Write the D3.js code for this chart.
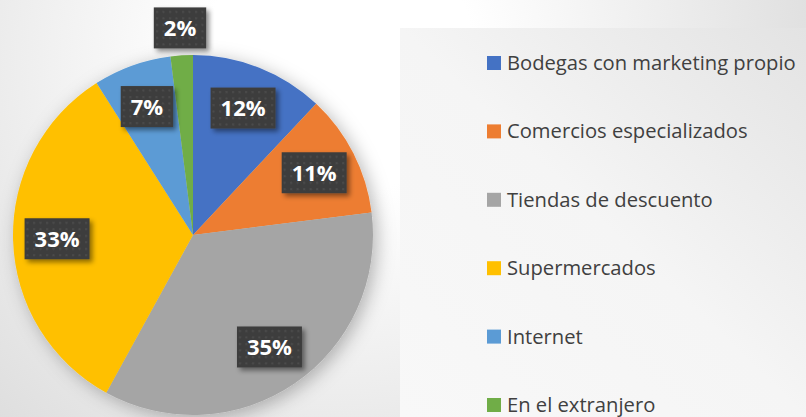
<!DOCTYPE html>
<html>
<head>
<meta charset="utf-8">
<script src="https://cdn.jsdelivr.net/npm/d3@7"></script>
<style>
  html, body { margin: 0; padding: 0; background: #fff; }
  svg { display: block; }
</style>
</head>
<body>
<div id="chart"></div>
<script>
// data
var categories = ["Bodegas con marketing propio", "Comercios especializados",
  "Tiendas de descuento", "Supermercados", "Internet", "En el extranjero"];
var values = [12, 11, 35, 33, 7, 2];
var colors = ["#4472c4", "#ed7d31", "#a5a5a5", "#ffc000", "#5b9bd5", "#70ad47"];

var width = 806, height = 417;
var cx = 193, cy = 235, radius = 180;

var svg = d3.select("#chart")
  .append("svg")
    .attr("width", width)
    .attr("height", height);

var defs = svg.append("defs");

// page background, soft radial
var bg = defs.append("radialGradient")
  .attr("id", "bg")
  .attr("gradientUnits", "userSpaceOnUse")
  .attr("cx", 340).attr("cy", 60).attr("r", 540);
bg.append("stop").attr("offset", "0").attr("stop-color", "#ffffff");
bg.append("stop").attr("offset", "0.25").attr("stop-color", "#ffffff");
bg.append("stop").attr("offset", "1").attr("stop-color", "#dadada");

var lg = defs.append("linearGradient")
  .attr("id", "legbg")
  .attr("x1", 0).attr("y1", 1).attr("x2", 1).attr("y2", 0);
lg.append("stop").attr("offset", "0").attr("stop-color", "#f8f8f8");
lg.append("stop").attr("offset", "0.5").attr("stop-color", "#f5f5f5");
lg.append("stop").attr("offset", "1").attr("stop-color", "#e3e3e3");

// dotted texture for the label boxes
var pat = defs.append("pattern")
  .attr("id", "dots")
  .attr("patternUnits", "userSpaceOnUse")
  .attr("width", 6.5).attr("height", 6.5);
pat.append("rect").attr("width", 6.5).attr("height", 6.5).attr("fill", "#3d3d3d");
pat.append("rect").attr("x", 2).attr("y", 2).attr("width", 2).attr("height", 2).attr("fill", "#4c4c4c");

var pieShadow = defs.append("filter").attr("id", "pieShadow")
  .attr("x", "-20%").attr("y", "-20%").attr("width", "140%").attr("height", "140%");
pieShadow.append("feDropShadow")
  .attr("dx", 4).attr("dy", 4).attr("stdDeviation", 9)
  .attr("flood-color", "#000").attr("flood-opacity", 0.28);

var boxShadow = defs.append("filter").attr("id", "boxShadow")
  .attr("x", "-30%").attr("y", "-30%").attr("width", "160%").attr("height", "160%");
boxShadow.append("feDropShadow")
  .attr("dx", 3).attr("dy", 3).attr("stdDeviation", 2.5)
  .attr("flood-color", "#000").attr("flood-opacity", 0.45);

svg.append("rect")
  .attr("width", width).attr("height", height)
  .attr("fill", "url(#bg)");

// legend panel
svg.append("rect")
  .attr("x", 400).attr("y", 28)
  .attr("width", width - 400).attr("height", height - 28)
  .attr("fill", "url(#legbg)");

var pie = d3.pie().sort(null).value(function(d) { return d; });
var arcs = pie(values);

var arc = d3.arc().innerRadius(0).outerRadius(radius);
var labelArc = d3.arc().innerRadius(136).outerRadius(136);
var outerLabelArc = d3.arc().innerRadius(207).outerRadius(207);

var g = svg.append("g")
  .attr("transform", "translate(" + cx + "," + cy + ")");

g.append("g")
  .attr("filter", "url(#pieShadow)")
  .selectAll("path")
  .data(arcs)
  .enter()
  .append("path")
    .attr("d", arc)
    .attr("fill", function(d, i) { return colors[i]; });

// data labels
var labels = g.selectAll(".lbl")
  .data(arcs)
  .enter()
  .append("g")
  .attr("class", "lbl")
  .attr("transform", function(d) {
    var p = d.data < 5 ? outerLabelArc.centroid(d) : labelArc.centroid(d);
    return "translate(" + p[0] + "," + p[1] + ")";
  });

labels.each(function(d) {
  var sel = d3.select(this);
  var t = sel.append("text")
    .attr("text-anchor", "middle")
    .attr("dy", "0.36em")
    .attr("fill", "#ffffff")
    .style("font-family", "'Open Sans', 'Noto Sans', sans-serif")
    .style("font-weight", "bold")
    .style("font-size", "22px")
    .text(d.data + "%");
  var w = t.node().getComputedTextLength() + 20;
  sel.insert("rect", "text")
    .attr("x", -w / 2).attr("y", -21)
    .attr("width", w).attr("height", 41)
    .attr("fill", "url(#dots)")
    .attr("filter", "url(#boxShadow)");
});

// legend
var ly = d3.scalePoint()
  .domain(categories)
  .range([63, 405]);

var legend = svg.selectAll(".legend")
  .data(categories)
  .enter()
  .append("g")
  .attr("class", "legend")
  .attr("transform", function(d) { return "translate(487," + ly(d) + ")"; });

legend.append("rect")
  .attr("x", 0).attr("y", -7)
  .attr("width", 14).attr("height", 14)
  .attr("fill", function(d, i) { return colors[i]; });

legend.append("text")
  .attr("x", 20).attr("y", 7)
  .attr("fill", "#404040")
  .style("font-family", "'Open Sans', 'Noto Sans', sans-serif")
  .style("font-size", "20.2px")
  .text(function(d) { return d; });
</script>
</body>
</html>
